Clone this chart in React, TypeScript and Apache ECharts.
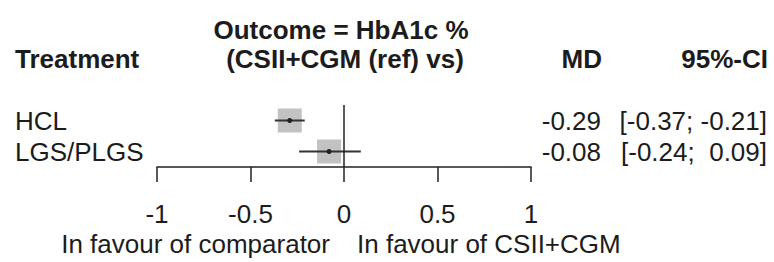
import React, { useEffect, useRef } from "react";
import * as echarts from "echarts";

const treatments = ["HCL", "LGS/PLGS"];
const meanDiff = [-0.29, -0.08];
const ciLower = [-0.37, -0.24];
const ciUpper = [-0.21, 0.09];
const tickValues = [-1, -0.5, 0, 0.5, 1];
const headerTreatment = "Treatment";
const headerOutcome = ["Outcome = HbA1c %", "(CSII+CGM (ref) vs)"];
const headerMD = "MD";
const headerCI = "95%-CI";
const favourLeft = "In favour of comparator";
const favourRight = "In favour of CSII+CGM";

const FONT = "'Liberation Sans', Arial, Helvetica, sans-serif";
const FS = 26;
const TXT = "#1c1c1c";

function fmt(v: number) {
  return v.toFixed(2);
}
function fmtCI(lo: number, hi: number) {
  const h = (hi >= 0 ? " " : "") + fmt(hi);
  return `[${fmt(lo)}; ${h}]`;
}

export default function App() {
  const ref = useRef<HTMLDivElement>(null);
  useEffect(() => {
    if (!ref.current) return;
    const chart = echarts.init(ref.current, undefined, { renderer: "svg" });
    const data = treatments.map((t, i) => [meanDiff[i], i, ciLower[i], ciUpper[i]]);
    chart.setOption({
      animation: false,
      backgroundColor: "#ffffff",
      textStyle: { fontFamily: FONT },
      grid: { left: 157, right: 243, top: 105, bottom: 95, containLabel: false },
      xAxis: {
        type: "value",
        min: -1,
        max: 1,
        interval: 0.5,
        splitLine: { show: false },
        axisLine: { show: true, lineStyle: { color: "#222", width: 1.5 } },
        axisTick: { show: true, length: 15, lineStyle: { color: "#222", width: 1.5 } },
        axisLabel: {
          margin: 35,
          fontSize: FS,
          lineHeight: 24,
          fontFamily: FONT,
          color: TXT,
          formatter: (v: number) => (tickValues.includes(v) ? String(v) : ""),
        },
      },
      yAxis: [
        {
          type: "category",
          data: treatments,
          inverse: true,
          position: "left",
          axisLine: { show: false },
          axisTick: { show: false },
          splitLine: { show: false },
          axisLabel: {
            interval: 0,
            align: "left",
            margin: 142,
            fontSize: FS,
            lineHeight: 28,
            fontFamily: FONT,
            color: TXT,
          },
        },
        {
          type: "category",
          data: treatments,
          inverse: true,
          position: "right",
          axisLine: { show: false },
          axisTick: { show: false },
          splitLine: { show: false },
          axisLabel: {
            interval: 0,
            align: "left",
            margin: 8,
            formatter: (_v: string, i: number) =>
              `{md|${fmt(meanDiff[i])}}{ci|${fmtCI(ciLower[i], ciUpper[i])}}`,
            rich: {
              md: { width: 62, align: "right", fontSize: FS, lineHeight: 28, fontFamily: FONT, color: TXT },
              ci: { width: 166, align: "right", fontSize: FS, lineHeight: 28, fontFamily: FONT, color: TXT },
            },
          },
        },
      ],
      series: [
        {
          type: "custom",
          data,
          encode: { x: 0, y: 1 },
          renderItem: (_p: any, api: any) => {
            const y = api.value(1);
            const c = api.coord([api.value(0), y]);
            const lo = api.coord([api.value(2), y]);
            const hi = api.coord([api.value(3), y]);
            const s = 24;
            return {
              type: "group",
              children: [
                {
                  type: "rect",
                  shape: { x: c[0] - s / 2, y: c[1] - s / 2, width: s, height: s },
                  style: { fill: "#c2c2c2" },
                },
                {
                  type: "line",
                  shape: { x1: lo[0], y1: c[1], x2: hi[0], y2: c[1] },
                  style: { stroke: "#333", lineWidth: 2 },
                },
                {
                  type: "circle",
                  shape: { cx: c[0], cy: c[1], r: 2.5 },
                  style: { fill: "#222" },
                },
              ],
            };
          },
          markLine: {
            silent: true,
            symbol: "none",
            label: { show: false },
            lineStyle: { color: "#222", width: 1.5, type: "solid" },
            data: [{ xAxis: 0 }],
          },
          z: 3,
        },
      ],
      graphic: [
        {
          type: "text",
          x: 15,
          y: 59,
          style: { text: headerTreatment, font: `bold ${FS}px ${FONT}`, fill: TXT, align: "left", verticalAlign: "middle" },
        },
        {
          type: "text",
          x: 341,
          y: 30,
          style: {
            text: headerOutcome[0],
            font: `bold ${FS}px ${FONT}`,
            fill: TXT,
            align: "center",
            verticalAlign: "middle",
          },
        },
        {
          type: "text",
          x: 345,
          y: 59,
          style: {
            text: headerOutcome[1],
            font: `bold ${FS}px ${FONT}`,
            fill: TXT,
            align: "center",
            verticalAlign: "middle",
          },
        },
        {
          type: "text",
          x: 602,
          y: 59,
          style: { text: headerMD, font: `bold ${FS}px ${FONT}`, fill: TXT, align: "right", verticalAlign: "middle" },
        },
        {
          type: "text",
          x: 768,
          y: 59,
          style: { text: headerCI, font: `bold ${FS}px ${FONT}`, fill: TXT, align: "right", verticalAlign: "middle" },
        },
        {
          type: "text",
          x: 330,
          y: 244,
          style: { text: favourLeft, font: `${FS}px ${FONT}`, fill: TXT, align: "right", verticalAlign: "middle" },
        },
        {
          type: "text",
          x: 357,
          y: 244,
          style: { text: favourRight, font: `${FS}px ${FONT}`, fill: TXT, align: "left", verticalAlign: "middle" },
        },
      ],
    });
    return () => chart.dispose();
  }, []);
  return (
    <div
      ref={ref}
      style={{ position: "fixed", left: 0, top: 0, width: 774, height: 262, background: "#fff" }}
    />
  );
}
